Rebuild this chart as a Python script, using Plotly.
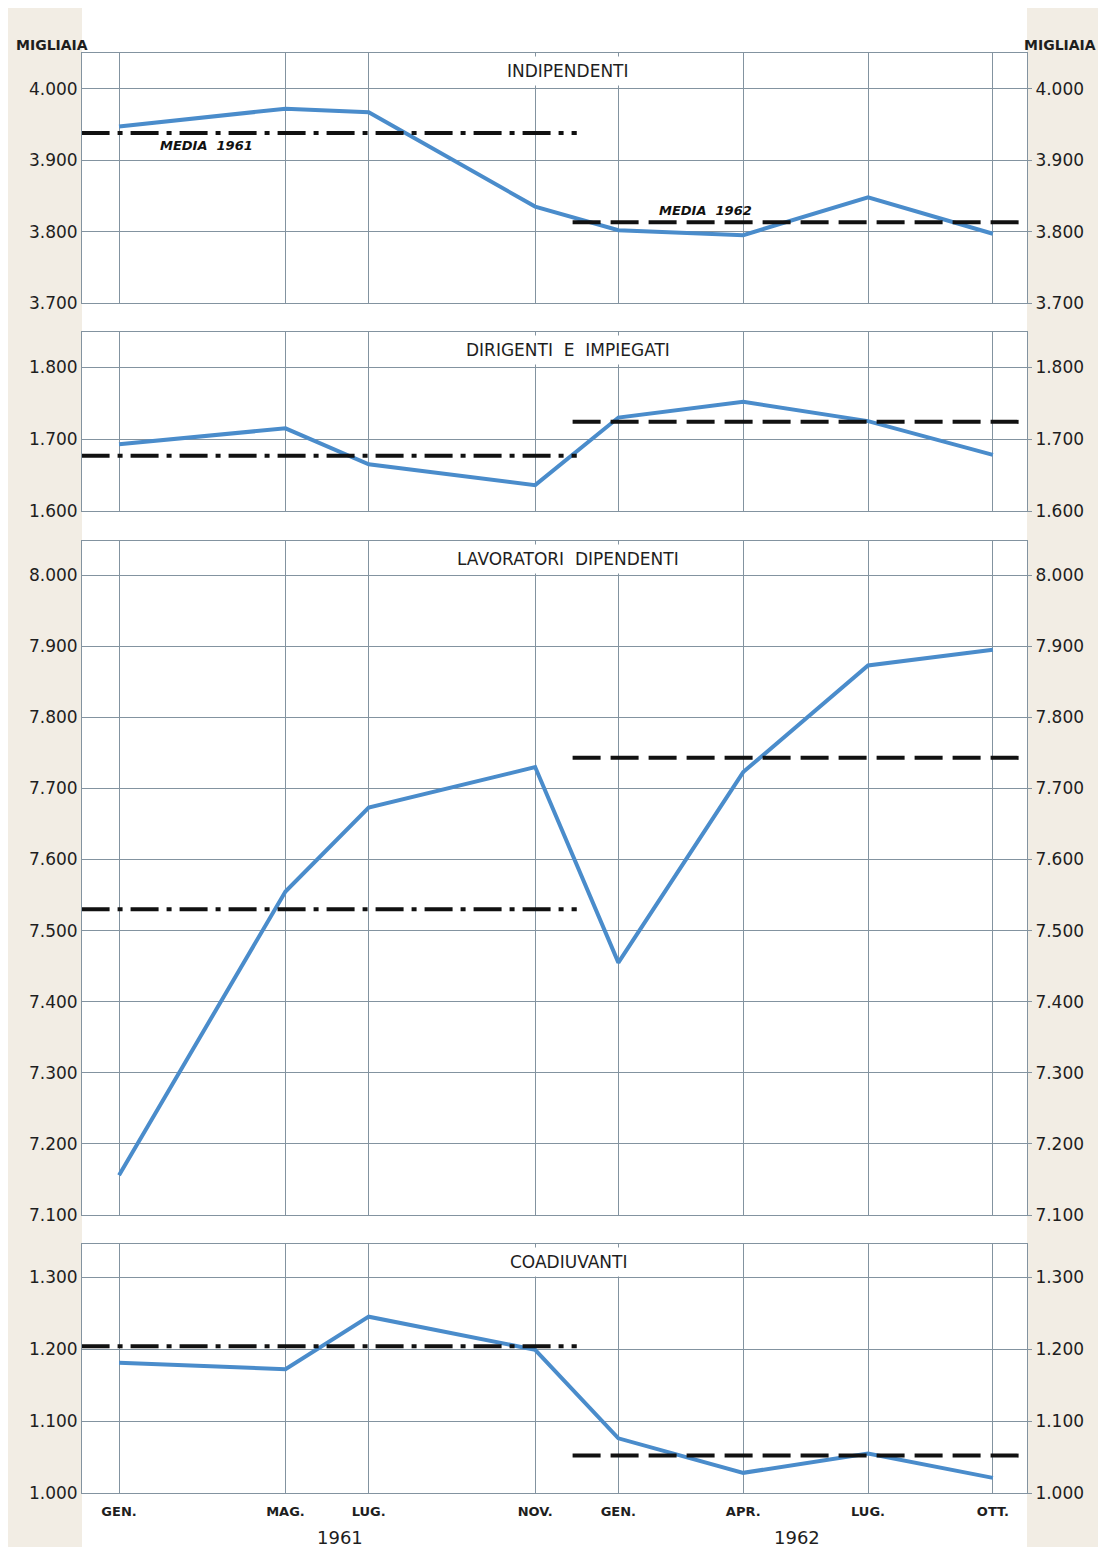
# Forze di lavoro 1961-1962, quattro pannelli (migliaia)
import plotly.graph_objects as go

# la pagina html ha un margine di 8 px: la figura è spostata di conseguenza
OFF = 8
W, H = 1106 - OFF, 1547 - OFF

# mesi dall'inizio del 1961 (GEN. 1961 = 0)
mesi = [0, 4, 6, 10, 12, 15, 18, 21]
etichette_mesi = ["GEN.", "MAG.", "LUG.", "NOV.", "GEN.", "APR.", "LUG.", "OTT."]

titoli = ["INDIPENDENTI", "DIRIGENTI  E  IMPIEGATI", "LAVORATORI  DIPENDENTI", "COADIUVANTI"]

indipendenti = [3947, 3972, 3967, 3835, 3802, 3795, 3848, 3797]
dirigenti = [1693, 1715, 1665, 1636, 1730, 1752, 1725, 1678]
lavoratori = [7156, 7555, 7673, 7730, 7455, 7723, 7873, 7895]
coadiuvanti = [1181, 1172, 1245, 1199, 1076, 1028, 1055, 1021]

media_1961 = [3938, 1677, 7530, 1204]
media_1962 = [3813, 1724, 7743, 1052]

# periodo coperto dalle linee di media (in mesi)
periodo_1961 = [-0.9, 11.0]
periodo_1962 = [10.9, 21.85]

serie = [indipendenti, dirigenti, lavoratori, coadiuvanti]
range_y = [[3700, 4050], [1600, 1849], [7100, 8048], [1000, 1346]]
tick_y = [[3700, 3800, 3900, 4000], [1600, 1700, 1800],
          list(range(7100, 8001, 100)), [1000, 1100, 1200, 1300]]

# pannelli in pixel della pagina (alto, basso)
pannelli_px = [(53, 303), (332, 511), (541, 1215), (1244, 1493)]
x_px = (82, 1027)
x_range = [-0.89, 21.82]

BLU = "#4a8ccb"
GRIGLIA = "#8393a0"
TESTO = "#1e1e1e"
FONT = "DejaVu Sans"


def fx(px):
    return (px - OFF) / W


def fy(px):
    return 1 - (px - OFF) / H


fig = go.Figure()

for i in range(4):
    n = i + 1
    xa = "x" if n == 1 else "x%d" % n
    ya = "y" if n == 1 else "y%d" % n
    yr = "y%d" % (n + 4)
    fig.add_trace(go.Scatter(x=mesi, y=serie[i], mode="lines", xaxis=xa, yaxis=ya,
                             line=dict(color=BLU, width=4), showlegend=False))
    fig.add_trace(go.Scatter(x=periodo_1961, y=[media_1961[i]] * 2, mode="lines",
                             xaxis=xa, yaxis=yr, showlegend=False,
                             line=dict(color="#111111", width=4, dash="28px,8px,5px,8px")))
    fig.add_trace(go.Scatter(x=periodo_1962, y=[media_1962[i]] * 2, mode="lines",
                             xaxis=xa, yaxis=yr, showlegend=False,
                             line=dict(color="#111111", width=4, dash="28px,10px")))

    top, bot = pannelli_px[i]
    dom_y = [fy(bot), fy(top)]
    dom_x = [fx(x_px[0]), fx(x_px[1])]

    xk = "xaxis" if n == 1 else "xaxis%d" % n
    yk = "yaxis" if n == 1 else "yaxis%d" % n
    fig.layout[xk] = dict(
        domain=dom_x, range=x_range, anchor=ya, tickmode="array",
        tickvals=mesi, ticktext=etichette_mesi, showticklabels=(n == 4),
        showgrid=True, gridcolor=GRIGLIA, gridwidth=1, zeroline=False,
        showline=True, linecolor=GRIGLIA, linewidth=1, mirror=True,
        ticks="", ticklabelstandoff=6,
        tickfont=dict(family=FONT, size=13, color=TESTO, weight="bold"),
        automargin=False)
    fig.layout[yk] = dict(
        domain=dom_y, range=range_y[i], anchor=xa, tickmode="array",
        tickvals=tick_y[i], tickformat=",d", showgrid=True, gridcolor=GRIGLIA,
        gridwidth=1, zeroline=False, showline=True, linecolor=GRIGLIA,
        linewidth=1, mirror=True, ticks="",
        tickfont=dict(family=FONT, size=17, color=TESTO), automargin=False)
    fig.layout["yaxis%d" % (n + 4)] = dict(
        overlaying=ya, side="right", anchor=xa, range=range_y[i], tickmode="array",
        tickvals=tick_y[i], tickformat=",d", showgrid=False, zeroline=False,
        ticks="outside", ticklen=4, tickcolor=GRIGLIA,
        tickfont=dict(family=FONT, size=17, color=TESTO), automargin=False)

    # titolo del pannello nella fascia alta
    fig.add_annotation(x=10.8, xref=xa, y=fy(top + 18), yref="paper",
                       xanchor="center", yanchor="middle",
                       text=titoli[i], showarrow=False, bgcolor="white", borderpad=4,
                       font=dict(family=FONT, size=17, color=TESTO))

# etichette delle medie nel primo pannello
fig.add_annotation(x=2.1, y=3920, xref="x", yref="y", text="MEDIA  1961", showarrow=False,
                   xanchor="center", yanchor="middle",
                   font=dict(family=FONT, size=13, color="#111111", style="italic", weight="bold"))
fig.add_annotation(x=14.1, y=3830, xref="x", yref="y", text="MEDIA  1962", showarrow=False,
                   xanchor="center", yanchor="middle",
                   font=dict(family=FONT, size=13, color="#111111", style="italic", weight="bold"))

# anni sotto l'asse
for anno, xm in [("1961", 5.3), ("1962", 16.3)]:
    fig.add_annotation(x=xm, xref="x4", y=fy(1537), yref="paper", text=anno,
                       xanchor="center", yanchor="middle",
                       showarrow=False, font=dict(family=FONT, size=18, color=TESTO))

# unità di misura
for xp in [52, 1060]:
    fig.add_annotation(x=fx(xp), y=fy(45), xref="paper", yref="paper", text="MIGLIAIA",
                       xanchor="center", yanchor="middle", showarrow=False,
                       font=dict(family=FONT, size=14, color=TESTO, weight="bold"))

# fascia bianca centrale su fondo carta
fig.add_shape(type="rect", xref="paper", yref="paper", x0=fx(x_px[0]), x1=fx(x_px[1]),
              y0=0, y1=1, fillcolor="white", line_width=0, layer="below")

fig.update_layout(
    width=W, height=H, template="none", separators=",.",
    paper_bgcolor="#f2ede4", plot_bgcolor="white",
    margin=dict(l=0, r=0, t=0, b=0), showlegend=False,
)

fig.write_html("out.html")
